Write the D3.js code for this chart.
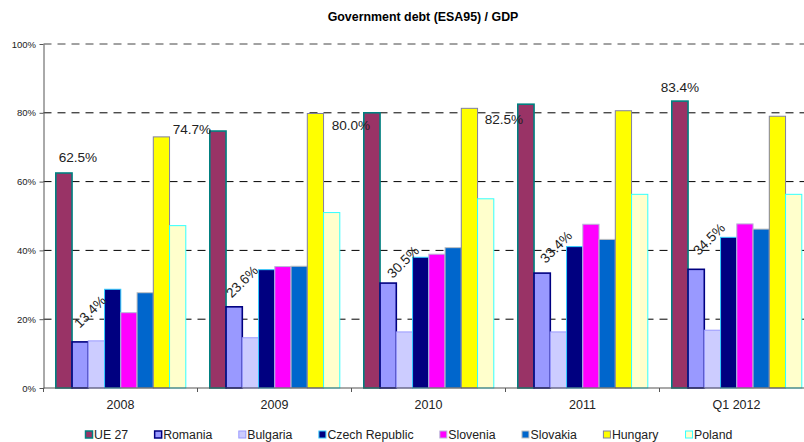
<!DOCTYPE html>
<html>
<head>
<meta charset="utf-8">
<script src="https://cdn.jsdelivr.net/npm/d3@7"></script>
<style>
  body { margin: 0; background: #fff; }
  svg { display: block; overflow: hidden; }
</style>
</head>
<body>
<svg id="chart" width="804" height="442"></svg>
<script>
// data
const categories = ["2008", "2009", "2010", "2011", "Q1 2012"]
const seriesNames = ["UE 27", "Romania", "Bulgaria", "Czech Republic", "Slovenia", "Slovakia", "Hungary", "Poland"]
const ue27     = [62.5, 74.7, 80.0, 82.5, 83.4]
const romania  = [13.4, 23.6, 30.5, 33.4, 34.5]
const bulgaria = [13.7, 14.6, 16.3, 16.3, 16.8]
const czech    = [28.7, 34.4, 38.0, 41.1, 43.8]
const slovenia = [21.9, 35.3, 38.9, 47.6, 47.7]
const slovakia = [27.7, 35.4, 40.8, 43.2, 46.2]
const hungary  = [73.0, 79.8, 81.3, 80.6, 79.0]
const poland   = [47.2, 51.0, 55.0, 56.3, 56.3]
const yTicks   = [0, 20, 40, 60, 80, 100]

const seriesValues = [ue27, romania, bulgaria, czech, slovenia, slovakia, hungary, poland]
const fills   = ["#993366", "#9999FF", "#CCCCFF", "#000080", "#FF00FF", "#0066CC", "#FFFF00", "#FFFFCC"]
const strokes = ["#008080", "#000080", "#9999FF", "#33CCFF", "#B8B8D8", "#C0C0C0", "#8080A0", "#33FFFF"]
const strokeW = [1.6, 1.6, 1, 1, 1, 1, 1, 1]

const FONT = "Arial, 'Liberation Sans', Helvetica, sans-serif"
const svg = d3.select("#chart").attr("font-family", FONT)

const x0 = d3.scaleBand().domain(categories).range([43.5, 813.5])
const x1 = d3.scaleBand().domain(seriesNames).range([12.3, 142.3])
const y  = d3.scaleLinear().domain([0, 100]).range([388, 44])

// title
svg.append("text")
   .attr("x", 423).attr("y", 21)
   .attr("text-anchor", "middle")
   .attr("font-size", 12.4).attr("font-weight", "bold")
   .attr("fill", "#000")
   .text("Government debt (ESA95) / GDP")

// dashed gridlines
svg.append("g")
   .selectAll("line")
   .data(yTicks.filter(d => d > 0))
   .join("line")
   .attr("x1", 43.5).attr("x2", 804)
   .attr("y1", d => y(d)).attr("y2", d => y(d))
   .attr("stroke", d => d === 100 ? "#444" : "#000")
   .attr("stroke-width", 1)
   .attr("stroke-dasharray", "8,6")

// bars
const groups = svg.append("g")
   .selectAll("g")
   .data(categories)
   .join("g")
   .attr("transform", c => `translate(${x0(c)},0)`)

groups.selectAll("rect")
   .data((c, i) => seriesNames.map((s, k) => ({ s, k, v: seriesValues[k][i] })))
   .join("rect")
   .attr("x", d => x1(d.s))
   .attr("y", d => y(d.v))
   .attr("width", x1.bandwidth())
   .attr("height", d => y(0) - y(d.v))
   .attr("fill", d => fills[d.k])
   .attr("stroke", d => strokes[d.k])
   .attr("stroke-width", d => strokeW[d.k])

// axes
const yAxis = svg.append("g")
   .attr("transform", "translate(43.5,0)")
   .call(d3.axisLeft(y).tickValues(yTicks).tickFormat(d => d + "%").tickSize(4).tickSizeOuter(0))
   .attr("font-family", FONT)
yAxis.select(".domain").attr("stroke", "#555")
yAxis.selectAll(".tick line").attr("stroke", "#555")
yAxis.selectAll(".tick text")
   .attr("font-size", 9.5)
   .attr("fill", "#222").attr("x", -7.5)

svg.append("line")
   .attr("x1", 43.5).attr("x2", 804)
   .attr("y1", y(0)).attr("y2", y(0))
   .attr("stroke", "#555").attr("stroke-width", 1.2)

// category separators below axis
svg.append("g")
   .selectAll("line")
   .data(categories.map(c => x0(c)).concat([x0.range()[1]]))
   .join("line")
   .attr("x1", d => d).attr("x2", d => d)
   .attr("y1", y(0)).attr("y2", y(0) + 4)
   .attr("stroke", "#555")

svg.append("g")
   .selectAll("text")
   .data(categories)
   .join("text")
   .attr("x", c => x0(c) + x0.bandwidth() / 2)
   .attr("y", 409)
   .attr("text-anchor", "middle")
   .attr("font-size", 12.5).attr("fill", "#222")
   .text(c => c)

// UE 27 value labels (offsets from bar centre / top, as placed in the original)
const ueLabelOffsets = [[14, -11], [-26, 3], [-21, 17], [-22, 20], [0, -9]]
svg.append("g")
   .selectAll("text")
   .data(ue27)
   .join("text")
   .attr("x", (v, i) => x0(categories[i]) + x1("UE 27") + x1.bandwidth() / 2 + ueLabelOffsets[i][0])
   .attr("y", (v, i) => y(v) + ueLabelOffsets[i][1])
   .attr("text-anchor", "middle")
   .attr("font-size", 13.6).attr("fill", "#222")
   .text(v => v.toFixed(1) + "%")

// Romania value labels, rotated
const roLabelOffsets = [[10, -30], [8, -25], [15, -21], [14, -26], [13, -30]]
svg.append("g")
   .selectAll("text")
   .data(romania)
   .join("text")
   .attr("transform", (v, i) => {
      const cx = x0(categories[i]) + x1("Romania") + x1.bandwidth() / 2 + roLabelOffsets[i][0]
      const cy = y(v) + roLabelOffsets[i][1]
      return `translate(${cx},${cy}) rotate(-45)`
   })
   .attr("text-anchor", "middle")
   .attr("dominant-baseline", "central")
   .attr("font-size", 13.6).attr("fill", "#222")
   .text(v => v.toFixed(1) + "%")

// legend
const legend = svg.append("g").attr("transform", "translate(0,435)")
const items = legend.selectAll("g")
   .data(seriesNames)
   .join("g")
items.append("rect")
   .attr("x", 0).attr("y", -4)
   .attr("width", 7).attr("height", 7)
   .attr("fill", (d, k) => fills[k])
   .attr("stroke", (d, k) => strokes[k])
   .attr("stroke-width", (d, k) => strokeW[k] > 1 ? 1.5 : 1)
items.append("text")
   .attr("x", 8.5).attr("y", 4.3)
   .attr("font-size", 12.3).attr("fill", "#222")
   .text(d => d)

let widths = []
items.each(function() { widths.push(this.getBBox().width) })
const gap = 26.3
const total = d3.sum(widths) + gap * (widths.length - 1)
let pos = 409 - total / 2
items.attr("transform", (d, k) => {
   const t = `translate(${pos},0)`
   pos += widths[k] + gap
   return t
})
</script>
</body>
</html>
